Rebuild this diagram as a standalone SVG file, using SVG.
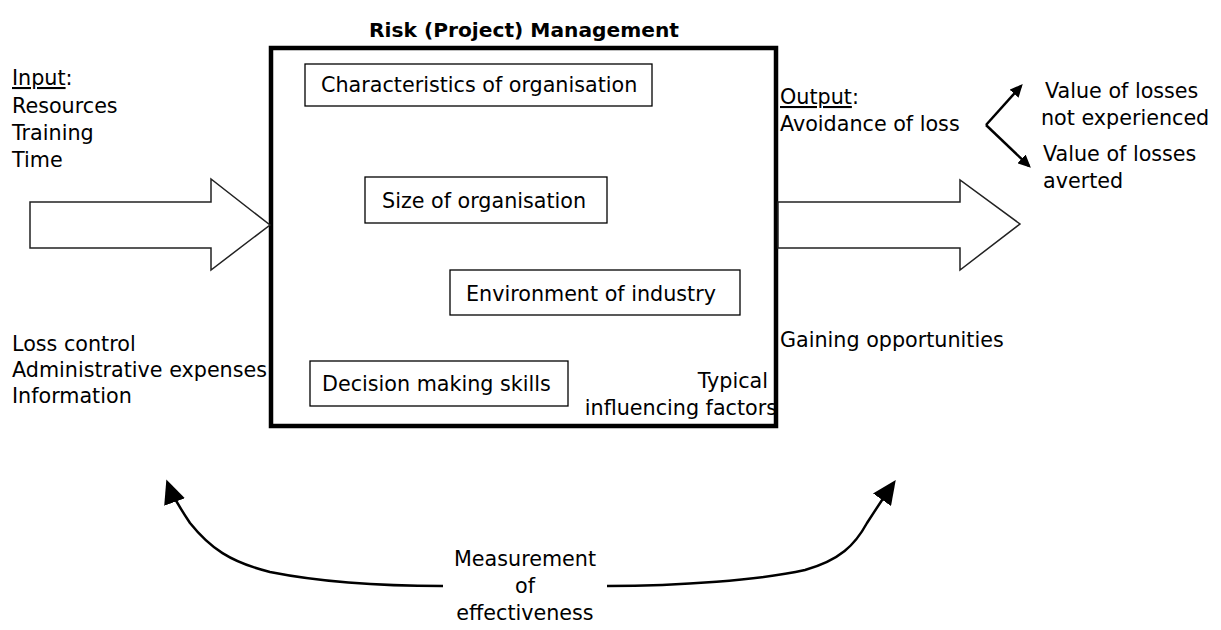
<svg xmlns="http://www.w3.org/2000/svg" width="1221" height="630" viewBox="0 0 1221 630">
<style>
  text { font-family: "DejaVu Sans", Verdana, sans-serif; font-size: 20.7px; fill: #000; }
  .title { font-weight: bold; font-size: 20.2px; }
  .box { fill: #fff; stroke: #000; stroke-width: 1.3; }
  .main { fill: #fff; stroke: #000; stroke-width: 4.5; }
  .big { fill: #fff; stroke: #222; stroke-width: 1.5; stroke-linejoin: miter; }
  .conn { fill: none; stroke: #000; stroke-width: 2.5; }
  .u { text-decoration: underline; }
</style>
<defs>
  <marker id="headL" viewBox="0 0 10 10" refX="8" refY="5" markerWidth="13" markerHeight="12" markerUnits="userSpaceOnUse" orient="auto" preserveAspectRatio="none">
    <path d="M0,0 L10,5 L0,10 z" fill="#000"/>
  </marker>
  <marker id="headB" viewBox="0 0 10 10" refX="8" refY="5" markerWidth="24" markerHeight="22" markerUnits="userSpaceOnUse" orient="auto" preserveAspectRatio="none">
    <path d="M0,0 L10,5 L0,10 z" fill="#000"/>
  </marker>
</defs>

<g id="title"><text class="title" x="524" y="37" text-anchor="middle">Risk (Project) Management</text></g>

<g id="risk-management">
  <rect class="main" x="271" y="48" width="505" height="378"/>
</g>

<g id="characteristics">
  <rect class="box" x="305" y="64" width="347" height="42"/>
  <text x="321" y="92">Characteristics of organisation</text>
</g>
<g id="size">
  <rect class="box" x="365" y="177" width="242" height="46"/>
  <text x="382" y="208">Size of organisation</text>
</g>
<g id="environment">
  <rect class="box" x="450" y="270" width="290" height="45"/>
  <text x="466" y="301">Environment of industry</text>
</g>
<g id="decision">
  <rect class="box" x="310" y="361" width="258" height="45"/>
  <text x="322" y="391">Decision making skills</text>
</g>
<g id="typical">
  <text x="768" y="388" text-anchor="end">Typical</text>
  <text x="777" y="415" text-anchor="end">influencing factors</text>
</g>

<g id="input">
  <text x="12" y="85"><tspan class="u">Input</tspan>:</text>
  <text x="12" y="113">Resources</text>
  <text x="12" y="140">Training</text>
  <text x="12" y="167">Time</text>
</g>
<g id="input-costs">
  <text x="12" y="351">Loss control</text>
  <text x="12" y="377">Administrative expenses</text>
  <text x="12" y="403">Information</text>
</g>

<g id="output">
  <text x="780" y="104"><tspan class="u">Output</tspan>:</text>
  <text x="780" y="131">Avoidance of loss</text>
</g>
<g id="not-experienced">
  <text x="1045" y="98">Value of losses</text>
  <text x="1041" y="125">not experienced</text>
</g>
<g id="averted">
  <text x="1043" y="161">Value of losses</text>
  <text x="1043" y="188">averted</text>
</g>
<g id="gaining">
  <text x="780" y="347">Gaining opportunities</text>
</g>
<g id="measurement">
  <text x="525" y="566" text-anchor="middle">Measurement</text>
  <text x="525" y="593" text-anchor="middle">of</text>
  <text x="525" y="620" text-anchor="middle">effectiveness</text>
</g>

<g id="connectors">
  <polygon class="big" points="30,202 211,202 211,179 270,225 211,270 211,248 30,248"/>
  <polygon class="big" points="778,202 960,202 960,180 1020,224 960,270 960,248 778,248"/>
  <path class="conn" d="M986,125 L1021,86" marker-end="url(#headL)"/>
  <path class="conn" d="M986,125 L1029,166" marker-end="url(#headL)"/>
  <path class="conn" d="M443,586 C380,586 320,582 270,572 C230,562 210,548 190,523 C180,508 172,495 168,484" marker-end="url(#headB)"/>
  <path class="conn" d="M607,586 C680,586 760,580 805,570 C840,560 855,545 867,523 C878,506 886,494 893,484" marker-end="url(#headB)"/>
</g>
</svg>
